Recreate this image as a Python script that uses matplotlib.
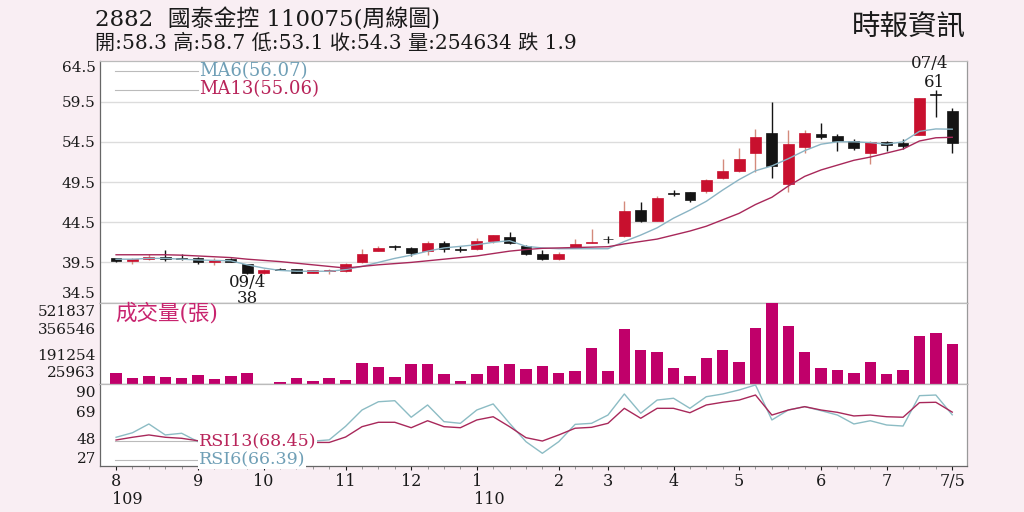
import matplotlib
matplotlib.use("Agg")
import matplotlib.pyplot as plt
import matplotlib.transforms as mtransforms
import numpy as np

# ---------------- data ----------------
opens  = [40.0, 39.7, 39.9, 40.2, 40.0, 40.0, 39.5, 39.9, 39.3, 38.2,
          38.7, 38.65, 38.2, 38.4, 38.4, 39.5, 40.95, 41.4, 41.35, 40.9,
          41.95, 41.2, 41.2, 42.2, 42.7, 41.55, 40.5, 39.9, 41.3, 41.9,
          42.4, 42.8, 46.05, 44.7, 48.1, 48.2, 48.4, 50.0, 50.9, 53.1,
          55.6, 49.2, 53.8, 55.5, 55.2, 54.65, 53.1, 54.5, 54.4, 55.4,
          60.3, 58.3]
highs  = [40.1, 40.0, 40.5, 41.0, 40.5, 40.2, 40.0, 40.0, 39.35, 38.7,
          38.75, 38.7, 38.55, 38.7, 39.4, 41.2, 41.6, 41.7, 41.4, 42.1,
          42.15, 41.5, 42.5, 42.95, 43.3, 41.65, 41.0, 40.85, 42.4, 43.7,
          42.8, 47.1, 47.05, 47.7, 48.5, 48.3, 49.9, 52.4, 53.7, 56.05,
          59.5, 56.0, 56.0, 56.8, 55.5, 54.8, 54.6, 54.6, 54.9, 59.95,
          61.0, 58.7]
lows   = [39.6, 39.3, 39.85, 39.7, 39.8, 39.3, 39.2, 39.5, 38.0, 38.1,
          38.5, 38.15, 38.15, 38.0, 38.25, 39.45, 40.9, 41.1, 40.3, 40.4,
          40.85, 40.8, 41.1, 41.9, 41.8, 40.4, 39.8, 39.8, 41.25, 41.9,
          41.9, 42.7, 44.5, 44.6, 47.7, 47.0, 48.1, 49.9, 50.8, 50.8,
          50.0, 48.2, 53.15, 54.8, 53.3, 53.5, 51.7, 53.3, 53.6, 55.3,
          57.6, 53.1]
closes = [39.65, 39.9, 40.2, 39.9, 39.95, 39.5, 39.8, 39.6, 38.15, 38.55,
          38.55, 38.2, 38.5, 38.45, 39.3, 40.5, 41.25, 41.4, 40.7, 41.95,
          41.2, 41.05, 42.15, 42.85, 41.9, 40.55, 39.9, 40.5, 41.8, 42.0,
          42.35, 45.85, 44.6, 47.55, 48.05, 47.25, 49.8, 50.9, 52.3, 55.1,
          51.5, 54.2, 55.6, 55.1, 54.6, 53.7, 54.5, 54.05, 54.0, 59.9,
          60.3, 54.3]
ma6  = [39.9, 39.9, 40.0, 40.0, 39.9, 39.8, 39.75, 39.7, 39.2, 38.8,
        38.5, 38.4, 38.4, 38.4, 38.6, 39.0, 39.5, 40.0, 40.4, 40.9,
        41.3, 41.5, 41.7, 42.0, 42.2, 41.5, 41.3, 41.2, 41.2, 41.2,
        41.2, 42.1, 42.9, 43.8, 45.0, 46.0, 47.1, 48.5, 49.8, 50.9,
        51.5, 52.4, 53.4, 54.2, 54.5, 54.5, 54.4, 54.2, 54.5, 55.8,
        56.1, 56.07]
ma13 = [40.45, 40.45, 40.45, 40.45, 40.4, 40.3, 40.2, 40.1, 39.9, 39.75,
        39.6, 39.4, 39.2, 39.0, 38.8, 39.0, 39.2, 39.35, 39.5, 39.7,
        39.9, 40.1, 40.3, 40.6, 40.9, 41.1, 41.25, 41.3, 41.35, 41.4,
        41.45, 41.8, 42.1, 42.4, 42.9, 43.4, 44.0, 44.8, 45.6, 46.7,
        47.6, 49.0, 50.2, 51.0, 51.6, 52.2, 52.6, 53.1, 53.6, 54.6,
        55.0, 55.06]
volume = [70600, 38500, 53000, 49000, 38500, 60000, 34000, 53000, 70000, 0,
          12800, 42000, 23000, 42000, 27600, 135000, 109000, 49000, 130000, 130000,
          64000, 21000, 64000, 119000, 128000, 96000, 119000, 70600, 87000, 231000,
          85000, 353000, 220000, 205000, 103000, 55000, 171000, 218000, 141000, 359000,
          521837, 370000, 209000, 105000, 94000, 74000, 141000, 64000, 92000, 306000,
          327000, 254634]
rsi6  = [49.0, 52.5, 59.3, 50.8, 52.1, 45.6, 46.0, 46.0, 45.0, 45.0,
         45.0, 45.5, 46.0, 47.0, 57.5, 70.1, 76.5, 77.3, 64.5, 74.0,
         61.1, 59.8, 70.1, 74.8, 59.8, 45.6, 36.6, 45.6, 59.0, 59.8,
         66.2, 82.5, 67.6, 77.8, 79.2, 71.4, 80.4, 82.5, 85.6, 89.5,
         62.4, 70.1, 72.7, 69.6, 66.2, 59.3, 61.8, 58.5, 57.7, 81.2,
         81.7, 66.39]
rsi13 = [46.9, 49.0, 50.8, 49.0, 48.2, 46.3, 46.0, 46.0, 45.5, 45.0,
         45.0, 45.0, 45.0, 45.0, 49.2, 57.2, 60.6, 60.6, 56.4, 61.8,
         57.2, 56.4, 62.4, 64.9, 57.2, 48.7, 46.1, 50.8, 56.0, 56.7,
         59.8, 71.4, 63.7, 71.4, 71.4, 68.0, 74.0, 76.1, 77.8, 81.7,
         66.2, 70.1, 72.7, 70.1, 68.3, 65.5, 66.2, 64.9, 64.5, 75.8,
         76.1, 68.45]
month_pos    = [0, 5, 9, 14, 18, 22, 27, 30, 34, 38, 43, 47, 51]
month_labels = ["8", "9", "10", "11", "12", "1", "2", "3", "4", "5", "6", "7", "7/5"]
price_ticks  = [34.5, 39.5, 44.5, 49.5, 54.5, 59.5, 64.5]
vol_ticks    = [25963, 191254, 356546, 521837]
rsi_ticks    = [27, 48, 69, 90]

# ---------------- style ----------------
BG = "#f9eef3"
RED = "#c8102e"
REDWICK = "#d48a7c"
BLACK = "#141414"
VOLC = "#c0006a"
MA6C = "#8ab4c4"
MA13C = "#a8285a"
SER = ["DejaVu Serif", "Noto Sans CJK TC"]
plt.rcParams["font.family"] = SER

fig = plt.figure(figsize=(10.24, 5.12), dpi=100, facecolor=BG)
L, R = 100 / 1024, 967 / 1024
W = R - L
def fy(px):
    return 1 - px / 512
ax1 = fig.add_axes([L, fy(302.6), W, fy(61.4) - fy(302.6)])
ax2 = fig.add_axes([L, fy(384.3), W, fy(302.6) - fy(384.3)])
ax3 = fig.add_axes([L, fy(465.7), W, fy(384.3) - fy(465.7)])

n = len(closes)
x = np.arange(n)
XL = (-0.98, 51.9)

for ax in (ax1, ax2, ax3):
    ax.set_facecolor("white")
    ax.set_xlim(*XL)
    for s in ax.spines.values():
        s.set_color("#666666")
        s.set_linewidth(0.9)
    ax.spines["top"].set_color("#bbbbbb")
    ax.spines["right"].set_color("#999999")
    ax.tick_params(axis="y", length=0, pad=3, labelsize=11, colors="#1a1a1a")
    ax.set_xticks([])

# ---- price panel ----
ax1.set_ylim(34.5, 64.5)
ax1.set_yticks(price_ticks)
ax1.set_yticklabels([f"{t:.1f}" for t in price_ticks])
labs = ax1.get_yticklabels()
labs[0].set_va("bottom")
labs[-1].set_va("top")
for t in price_ticks[1:-1]:
    ax1.axhline(t, color="#dcdcdc", lw=1.0, zorder=0)

bw = 0.66
for i in range(n):
    o, h, l, c = opens[i], highs[i], lows[i], closes[i]
    up = c > o
    col = RED if up else BLACK
    wcol = REDWICK if up else BLACK
    ax1.vlines(i, l, h, color=wcol, lw=1.0, zorder=2)
    lo = min(o, c)
    ht = max(abs(c - o), 0.1)
    ax1.bar(i, ht, bw, bottom=lo, color=col, edgecolor=col, lw=0.5, zorder=3)

ax1.plot(x, ma6, color=MA6C, lw=1.0, zorder=4)
ax1.plot(x, ma13, color=MA13C, lw=1.0, zorder=4)

# legends
ax1.plot([-0.06, 5.0], [63.3, 63.3], color="#bbbbbb", lw=0.8)
ax1.plot([-0.06, 5.0], [61.0, 61.0], color="#bbbbbb", lw=0.8)
ax1.text(5.05, 63.3, "MA6(56.07)", color="#6f9fb6", fontsize=13, va="center", ha="left")
ax1.text(5.05, 61.0, "MA13(55.06)", color="#b8245a", fontsize=13, va="center", ha="left")

ax1.text(8, 36.95, "09/4", fontsize=12, ha="center", va="center", color="#1a1a1a")
ax1.text(8, 35.05, "38", fontsize=12, ha="center", va="center", color="#1a1a1a", zorder=10)
ax1.text(49.6, 64.2, "07/4", fontsize=12, ha="center", va="center", color="#1a1a1a", clip_on=False)
ax1.text(49.9, 61.85, "61", fontsize=12, ha="center", va="center", color="#1a1a1a")

# ---- volume panel ----
ax2.set_ylim(0, 521837)
ax2.bar(x, volume, 0.7, color=VOLC, zorder=3)
ax2.set_yticks(vol_ticks)
ax2.set_yticklabels([str(v) for v in vol_ticks])
vl = ax2.get_yticklabels()
vl[0].set_va("bottom")
vl[-1].set_va("top")
ax2.text(0.018, 0.865, "成交量(張)", transform=ax2.transAxes, fontsize=15.5,
         color="#c8246e", va="center", ha="left")

# ---- RSI panel ----
ax3.set_ylim(27, 90)
ax3.plot(x, rsi6, color="#8cbcc4", lw=1.0, zorder=3)
ax3.plot(x, rsi13, color="#a8285a", lw=1.0, zorder=3)
ax3.set_yticks(rsi_ticks)
ax3.set_yticklabels([str(v) for v in rsi_ticks])
rl = ax3.get_yticklabels()
rl[0].set_va("bottom")
rl[-1].set_va("top")
ax3.plot([-0.06, 5.0], [46.2, 46.2], color="#bbbbbb", lw=0.8, zorder=2)
ax3.plot([-0.06, 5.0], [31.6, 31.6], color="#bbbbbb", lw=0.8, zorder=2)
ax3.text(5.05, 46.2, "RSI13(68.45)", color="#b8245a", fontsize=12.5, va="center", ha="left",
         zorder=6, bbox=dict(boxstyle="square,pad=0.05", fc="white", ec="none"))
ax3.text(5.05, 31.6, "RSI6(66.39)", color="#6f9fb6", fontsize=12.5, va="center", ha="left",
         zorder=6, bbox=dict(boxstyle="square,pad=0.05", fc="white", ec="none"))

ax3.set_xticks(month_pos)
ax3.set_xticklabels(month_labels)
ax3.set_xticks(x, minor=True)
ax3.tick_params(axis="x", which="major", length=3, pad=2, labelsize=11.5, colors="#1a1a1a")
ax3.tick_params(axis="x", which="minor", length=2, color="#888888")
ax3.text(-0.25, -0.41, "109", transform=ax3.get_xaxis_transform(), fontsize=11.5,
         ha="left", va="center", color="#1a1a1a")
ax3.text(21.85, -0.41, "110", transform=ax3.get_xaxis_transform(), fontsize=11.5,
         ha="left", va="center", color="#1a1a1a")

# small vertical nudges of crowded tick labels (as in the reference)
def nudge(lbl, dy_px):
    lbl.set_transform(lbl.get_transform() +
                      mtransforms.ScaledTranslation(0, dy_px / 100, fig.dpi_scale_trans))
nudge(ax1.get_yticklabels()[0], 2)
nudge(ax2.get_yticklabels()[-1], -2)
nudge(ax3.get_yticklabels()[-1], -1.5)

# ---- header ----
fig.text(95 / 1024, fy(20), "2882  國泰金控 110075(周線圖)", fontsize=16.5,
         ha="left", va="center", color="#1a1a1a")
fig.text(95 / 1024, fy(43), "開:58.3 高:58.7 低:53.1 收:54.3 量:254634 跌 1.9", fontsize=14.5,
         ha="left", va="center", color="#1a1a1a")
fig.text(966 / 1024, fy(28), "時報資訊", fontsize=20.5, ha="right", va="center", color="#1a1a1a")

fig.savefig("out.png", dpi=100, facecolor=BG)
